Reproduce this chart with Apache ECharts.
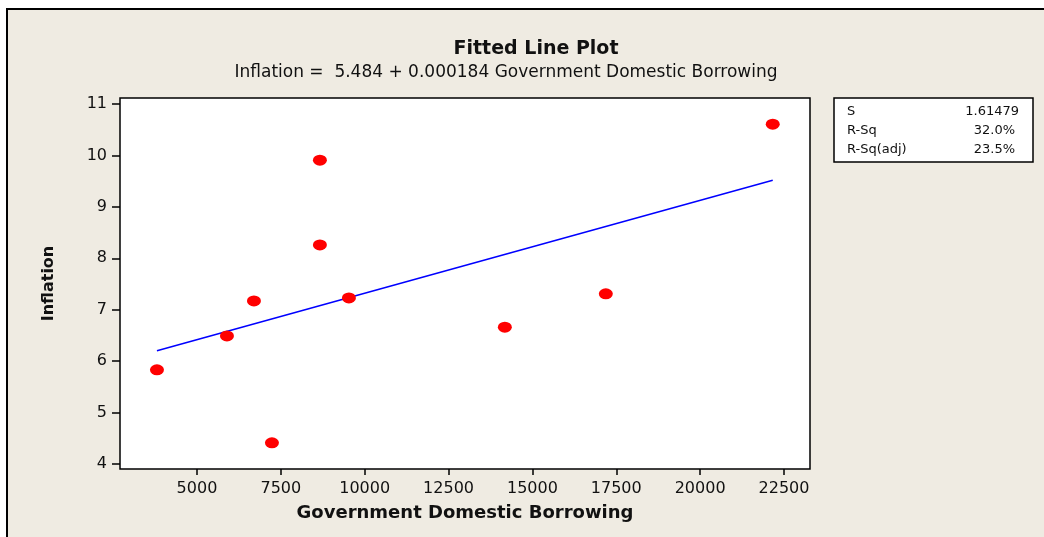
<!DOCTYPE html>
<html>
<head>
<meta charset="utf-8">
<script src="https://cdn.jsdelivr.net/npm/echarts@6/dist/echarts.min.js"></script>
<style>
html,body{margin:0;padding:0;background:#fff;}
#c{width:1044px;height:537px;}
</style>
</head>
<body>
<div id="c"></div>
<script>
// ---- data ----
var borrowing = [3808, 5894, 6699, 7235, 8665, 8665, 9530, 14178, 17188, 22164];
var inflation = [5.83, 6.49, 7.17, 4.41, 9.91, 8.26, 7.23, 6.66, 7.31, 10.61];
var fitX = [3808, 22164];
var fitY = [6.20, 9.52];
var xTicks = [5000, 7500, 10000, 12500, 15000, 17500, 20000, 22500];
var yTicks = [4, 5, 6, 7, 8, 9, 10, 11];
var statLabels = ['S', 'R-Sq', 'R-Sq(adj)'];
var statValues = ['1.61479', '32.0%', '23.5%'];
var titleText = 'Fitted Line Plot';
var subtitleText = 'Inflation =  5.484 + 0.000184 Government Domestic Borrowing';

var pts = borrowing.map(function (x, i) { return [x, inflation[i]]; });
var fit = fitX.map(function (x, i) { return [x, fitY[i]]; });

var FONT = 'DejaVu Sans';
var chart = echarts.init(document.getElementById('c'), null, {renderer: 'canvas'});

var graphics = [
  {type: 'rect', shape: {x: 0, y: 0, width: 1044, height: 8}, style: {fill: '#ffffff'}, silent: true, z: 0},
  {type: 'rect', shape: {x: 0, y: 0, width: 6, height: 537}, style: {fill: '#ffffff'}, silent: true, z: 0},
  {type: 'line', shape: {x1: 6, y1: 9, x2: 1044, y2: 9}, style: {stroke: '#000', lineWidth: 2}, silent: true},
  {type: 'line', shape: {x1: 7, y1: 9, x2: 7, y2: 537}, style: {stroke: '#000', lineWidth: 2}, silent: true},
  {type: 'rect', shape: {x: 834, y: 98, width: 199, height: 64}, style: {fill: '#ffffff', stroke: '#000', lineWidth: 1.5}, silent: true}
];
var rowY = [112, 131, 150];
var rightX = [1019, 1015, 1015];
statLabels.forEach(function (s, i) {
  graphics.push({type: 'text', x: 847, y: rowY[i], style: {text: s, fill: '#111', font: '13px "' + FONT + '"', textAlign: 'left', textVerticalAlign: 'middle'}, silent: true});
  graphics.push({type: 'text', x: rightX[i], y: rowY[i], style: {text: statValues[i], fill: '#111', font: '13px "' + FONT + '"', textAlign: 'right', textVerticalAlign: 'middle'}, silent: true});
});

chart.setOption({
  backgroundColor: '#EFEBE2',
  animation: false,
  title: [
    {text: titleText, left: 531, top: 35, textAlign: 'center',
     textStyle: {fontFamily: FONT, fontWeight: 'bold', fontSize: 19, color: '#111'}},
    {text: subtitleText, left: 501, top: 59, textAlign: 'center',
     textStyle: {fontFamily: FONT, fontWeight: 'normal', fontSize: 17, color: '#111'}}
  ],
  grid: {left: 120, top: 98, right: 234, bottom: 68, show: true, backgroundColor: '#ffffff',
         borderColor: '#000', borderWidth: 1.5, containLabel: false},
  xAxis: {
    type: 'value', min: 2706, max: 23275,
    name: 'Government Domestic Borrowing', nameLocation: 'middle', nameGap: 35,
    nameTextStyle: {fontFamily: FONT, fontWeight: 'bold', fontSize: 18, color: '#111'},
    axisLine: {show: false},
    axisTick: {show: true, inside: false, length: 6, lineStyle: {color: '#000', width: 1.5}, customValues: xTicks},
    axisLabel: {fontFamily: FONT, fontSize: 16, color: '#111', margin: 12, customValues: xTicks,
                formatter: function (v) { return String(v); }},
    splitLine: {show: false}
  },
  yAxis: {
    type: 'value', min: 3.9, max: 11.12,
    name: 'Inflation', nameLocation: 'middle', nameGap: 63, nameRotate: 90,
    nameTextStyle: {fontFamily: FONT, fontWeight: 'bold', fontSize: 16, color: '#111'},
    axisLine: {show: false},
    axisTick: {show: true, inside: false, length: 8, lineStyle: {color: '#000', width: 1.5}, customValues: yTicks},
    axisLabel: {fontFamily: FONT, fontSize: 16, color: '#111', margin: 13, customValues: yTicks},
    splitLine: {show: false}
  },
  series: [
    {type: 'line', data: fit, symbol: 'none', lineStyle: {color: '#0000FF', width: 1.5}, z: 2, silent: true},
    {type: 'scatter', data: pts, symbol: 'circle', symbolSize: [14, 11], itemStyle: {color: '#FF0000', opacity: 1}, z: 3}
  ],
  graphic: graphics
});
</script>
</body>
</html>
